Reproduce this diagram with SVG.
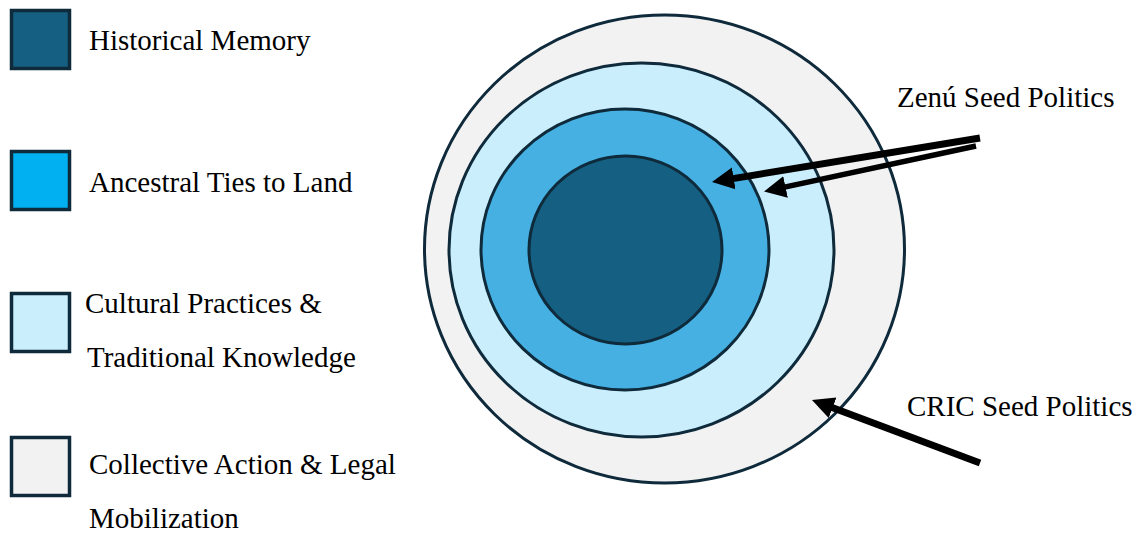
<svg xmlns="http://www.w3.org/2000/svg" width="1137" height="535" viewBox="0 0 1137 535">
<defs>
<style>
text{font-family:'Liberation Serif',serif;font-size:29px;fill:#000}
.ring{stroke:#0e2a3b;stroke-width:3}
.sw{stroke:#0e2a3b;stroke-width:3.5}
.arr{stroke:#000;fill:none}
</style>
<marker id="ah" markerUnits="userSpaceOnUse" markerWidth="24" markerHeight="24" refX="7" refY="11" orient="auto" viewBox="0 0 24 22">
<path d="M0,0 L22,11 L0,22 z" fill="#000"/>
</marker>
</defs>
<rect width="1137" height="535" fill="#fff"/>
<g id="legend-historical">
<rect class="sw" x="11.5" y="10.5" width="58" height="58" fill="#156082"/>
<text x="89" y="50" font-family="Liberation Serif, serif">Historical Memory</text>
</g>
<g id="legend-ancestral">
<rect class="sw" x="11.5" y="151.5" width="58" height="58" fill="#00b0f0"/>
<text x="89" y="192" font-family="Liberation Serif, serif">Ancestral Ties to Land</text>
</g>
<g id="legend-cultural">
<rect class="sw" x="11.5" y="293.5" width="58" height="58" fill="#caeefb"/>
<text x="85" y="313" font-family="Liberation Serif, serif">Cultural Practices &amp;</text>
<text x="87" y="367" font-family="Liberation Serif, serif">Traditional Knowledge</text>
</g>
<g id="legend-collective">
<rect class="sw" x="11.5" y="437.5" width="58" height="58" fill="#f2f2f2"/>
<text x="89" y="474" font-family="Liberation Serif, serif">Collective Action &amp; Legal</text>
<text x="89" y="528" font-family="Liberation Serif, serif">Mobilization</text>
</g>
<g id="ring-collective">
<ellipse class="ring" cx="664.5" cy="249" rx="240" ry="234" fill="#f2f2f2"/>
</g>
<g id="ring-cultural">
<ellipse class="ring" cx="641.5" cy="250" rx="192.5" ry="187" fill="#caeefb"/>
</g>
<g id="ring-ancestral">
<ellipse class="ring" cx="625" cy="249.5" rx="144" ry="140.5" fill="#45b0e1"/>
</g>
<g id="ring-historical">
<ellipse class="ring" cx="625.5" cy="250" rx="96.5" ry="94" fill="#156082"/>
</g>
<g id="label-zenu">
<text x="897" y="107" font-family="Liberation Serif, serif">Zenú Seed Politics</text>
</g>
<g id="label-cric">
<text x="907" y="416" font-family="Liberation Serif, serif">CRIC Seed Politics</text>
</g>
<g id="connectors">
<line class="arr" x1="980" y1="138" x2="726.8" y2="179.6" stroke-width="7" marker-end="url(#ah)"/>
<line class="arr" x1="976" y1="146" x2="778.7" y2="188.4" stroke-width="5.5" marker-end="url(#ah)"/>
<line class="arr" x1="980" y1="463" x2="826" y2="405.3" stroke-width="7" marker-end="url(#ah)"/>
</g>
</svg>
